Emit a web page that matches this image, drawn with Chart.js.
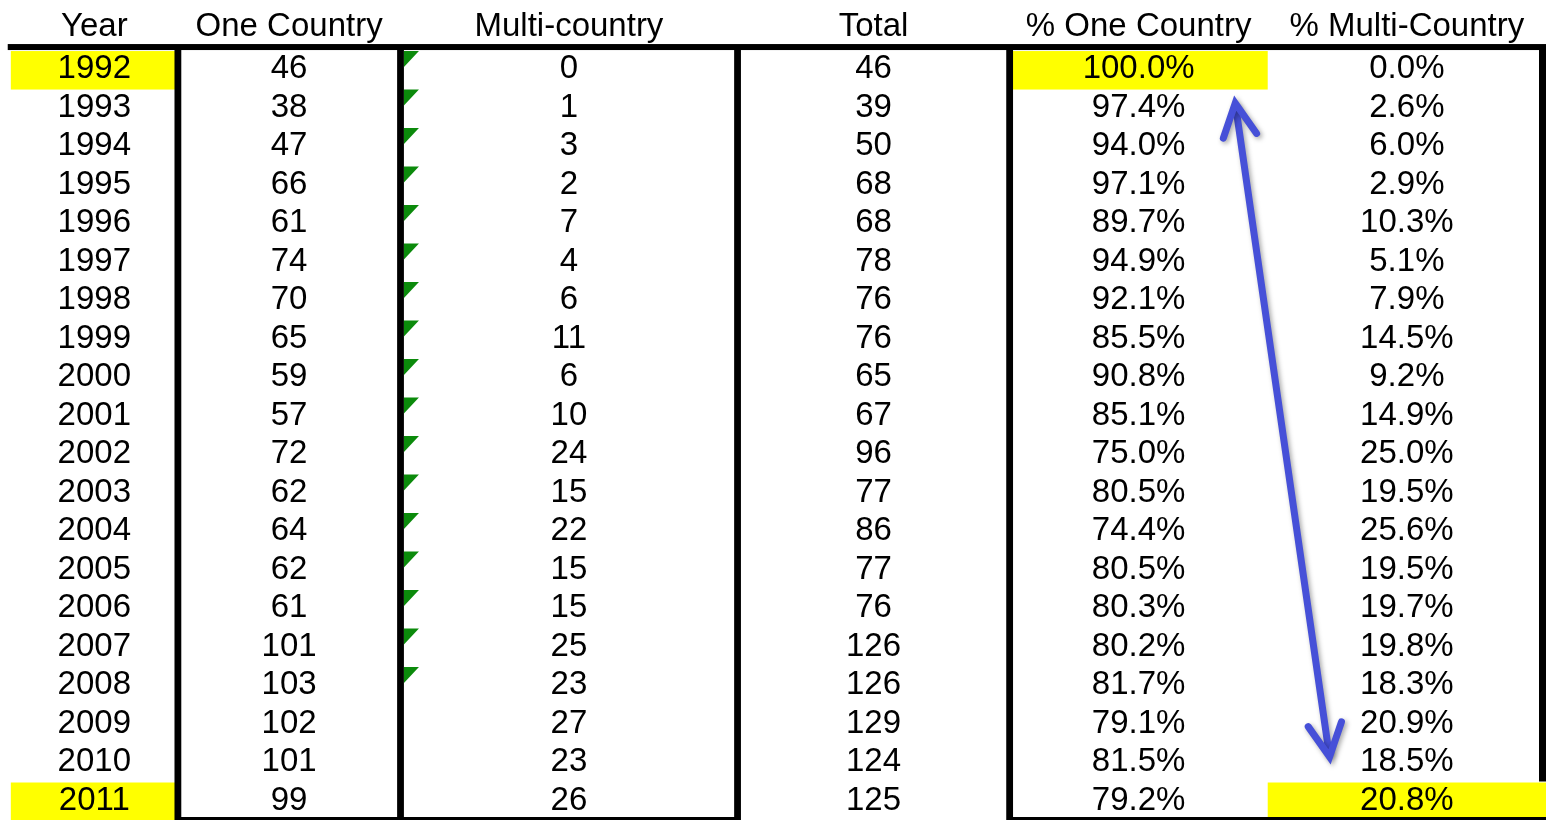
<!DOCTYPE html>
<html>
<head>
<meta charset="utf-8">
<title>One country vs multi-country</title>
<script src="https://cdn.jsdelivr.net/npm/chart.js@4.4.1/dist/chart.umd.min.js"></script>
<style>
  html, body { margin: 0; padding: 0; background: #fff; }
  #wrap { width: 1546px; height: 820px; }
</style>
</head>
<body>
<div id="wrap"><canvas id="table" width="1546" height="820"></canvas></div>
<script>
// table data
const headers = ['Year', 'One Country', 'Multi-country', 'Total', '% One Country', '% Multi-Country'];
const years = [1992, 1993, 1994, 1995, 1996, 1997, 1998, 1999, 2000, 2001,
               2002, 2003, 2004, 2005, 2006, 2007, 2008, 2009, 2010, 2011];
const oneCountry = [46, 38, 47, 66, 61, 74, 70, 65, 59, 57, 72, 62, 64, 62, 61, 101, 103, 102, 101, 99];
const multiCountry = [0, 1, 3, 2, 7, 4, 6, 11, 6, 10, 24, 15, 22, 15, 15, 25, 23, 27, 23, 26];
const totals = [46, 39, 50, 68, 68, 78, 76, 76, 65, 67, 96, 77, 86, 77, 76, 126, 126, 129, 124, 125];
const pctOne = ['100.0%', '97.4%', '94.0%', '97.1%', '89.7%', '94.9%', '92.1%', '85.5%', '90.8%', '85.1%',
                '75.0%', '80.5%', '74.4%', '80.5%', '80.3%', '80.2%', '81.7%', '79.1%', '81.5%', '79.2%'];
const pctMulti = ['0.0%', '2.6%', '6.0%', '2.9%', '10.3%', '5.1%', '7.9%', '14.5%', '9.2%', '14.9%',
                  '25.0%', '19.5%', '25.6%', '19.5%', '19.7%', '19.8%', '18.3%', '20.9%', '18.5%', '20.8%'];
// highlighted cells: [column, year]
const highlighted = [[0, 1992], [4, 1992], [0, 2011], [5, 2011]];
// years whose Multi-country cell carries the green error marker
const flaggedYears = [1992, 1993, 1994, 1995, 1996, 1997, 1998, 1999, 2000, 2001,
                      2002, 2003, 2004, 2005, 2006, 2007, 2008];

// layout (x axis runs 0..100 across the sheet, y axis counts rows)
const colEdges = [0.7, 11.5, 25.9, 47.7, 65.3, 82.0, 100];
const arrowTop = { x: 79.9, y: 1.38 };
const arrowBottom = { x: 86.0, y: 18.36 };
const FONT = '33px "Liberation Sans", Arial, Helvetica, sans-serif';

const columns = [years, oneCountry, multiCountry, totals, pctOne, pctMulti];

const tablePlugin = {
  id: 'tableCells',
  afterDraw(chart) {
    const { ctx, scales: { x, y } } = chart;
    const px = v => x.getPixelForValue(v);
    const py = v => y.getPixelForValue(v);
    const rowOf = yr => years.indexOf(yr);
    const nRows = years.length;

    ctx.save();
    ctx.fillStyle = '#fff';
    ctx.fillRect(0, 0, chart.width, chart.height);

    // right border first, the last yellow cell sits over it
    ctx.fillStyle = '#000';
    ctx.fillRect(px(100) - 7, py(0) - 3, 7, py(nRows - 1) - py(0) + 3);

    // yellow cells
    ctx.fillStyle = '#ffff00';
    highlighted.forEach(([c, yr]) => {
      const r = rowOf(yr);
      ctx.fillRect(px(colEdges[c]), py(r) + 1, px(colEdges[c + 1]) - px(colEdges[c]), py(r + 1) - py(r));
    });

    // header underline
    ctx.fillStyle = '#000';
    ctx.fillRect(px(0.5), py(0) - 6, px(100) - px(0.5), 6);

    // column rules
    [1, 2, 3, 4].forEach(i => {
      const xc = px(colEdges[i]);
      ctx.fillRect(xc - 3.3, py(0) - 1, 6.8, py(nRows) - py(0) + 1);
    });

    // bottom rules
    ctx.fillRect(px(colEdges[1]), py(nRows) - 3, px(colEdges[3]) - px(colEdges[1]), 3);
    ctx.fillRect(px(colEdges[4]), py(nRows) - 3, px(colEdges[6]) - px(colEdges[4]), 3);

    // green error markers
    ctx.fillStyle = '#0b8a0b';
    flaggedYears.forEach(yr => {
      const r = rowOf(yr);
      const x0 = px(colEdges[2]) + 3.5;
      const y0 = py(r) + 1;
      ctx.beginPath();
      ctx.moveTo(x0, y0);
      ctx.lineTo(x0 + 15, y0);
      ctx.lineTo(x0, y0 + 16);
      ctx.closePath();
      ctx.fill();
    });

    // text
    ctx.font = FONT;
    ctx.fillStyle = '#000';
    ctx.textAlign = 'center';
    ctx.textBaseline = 'alphabetic';
    headers.forEach((h, c) => {
      const xc = (px(colEdges[c]) + px(colEdges[c + 1])) / 2;
      ctx.fillText(h, xc, py(0) - 14);
    });
    columns.forEach((vals, c) => {
      const xc = (px(colEdges[c]) + px(colEdges[c + 1])) / 2;
      vals.forEach((v, r) => {
        ctx.fillText(String(v), xc, py(r + 1) - 10.5);
      });
    });

    // double-headed arrow
    const ax0 = px(arrowTop.x), ay0 = py(arrowTop.y);
    const ax1 = px(arrowBottom.x), ay1 = py(arrowBottom.y);
    const ang = Math.atan2(ay1 - ay0, ax1 - ax0);
    const wing = 37, spread = 27 * Math.PI / 180;
    ctx.strokeStyle = '#4650d8';
    ctx.lineWidth = 7;
    ctx.lineCap = 'round';
    ctx.lineJoin = 'miter';
    ctx.shadowColor = 'rgba(0,0,0,0.35)';
    ctx.shadowBlur = 5;
    ctx.shadowOffsetX = 2;
    ctx.shadowOffsetY = 2;
    ctx.beginPath();
    ctx.moveTo(ax0 + 4 * Math.cos(ang), ay0 + 4 * Math.sin(ang));
    ctx.lineTo(ax1 - 4 * Math.cos(ang), ay1 - 4 * Math.sin(ang));
    ctx.stroke();
    const head = (tx, ty, a) => {
      ctx.beginPath();
      ctx.moveTo(tx + wing * Math.cos(a - spread), ty + wing * Math.sin(a - spread));
      ctx.lineTo(tx, ty);
      ctx.lineTo(tx + wing * Math.cos(a + spread), ty + wing * Math.sin(a + spread));
      ctx.stroke();
    };
    head(ax0, ay0, ang);
    head(ax1, ay1, ang + Math.PI);
    ctx.restore();
  }
};

new Chart(document.getElementById('table'), {
  type: 'scatter',
  data: { datasets: [] },
  options: {
    responsive: false,
    devicePixelRatio: 1,
    animation: false,
    layout: { padding: 0 },
    plugins: { legend: { display: false }, tooltip: { enabled: false } },
    scales: {
      x: { type: 'linear', min: 0, max: 100, display: false },
      y: { type: 'linear', min: -1.3, max: 20, reverse: true, display: false }
    }
  },
  plugins: [tablePlugin]
});
</script>
</body>
</html>
